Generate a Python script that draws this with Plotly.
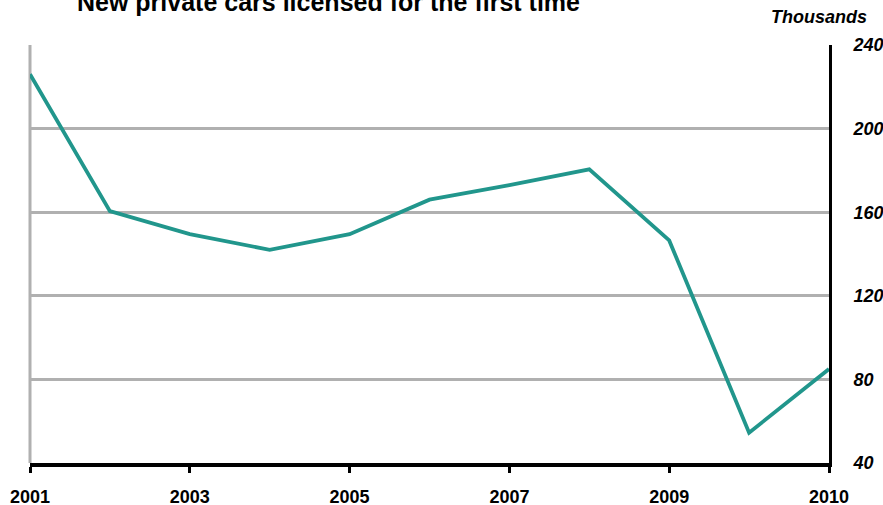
import plotly.graph_objects as go

years = ["2001", "2002", "2003", "2004", "2005", "2006", "2007", "2008", "2009", "2010", "2011"]
cars_thousands = [226, 160.5, 149.5, 142, 149.5, 166, 173, 180.5, 146.5, 54.5, 85]
tick_positions = [0, 2, 4, 6, 8, 10]
tick_labels = ["2001", "2003", "2005", "2007", "2009", "2010"]
y_ticks = [40, 80, 120, 160, 200, 240]

FONT = "Arial, Liberation Sans, Helvetica, sans-serif"

fig = go.Figure()
fig.add_trace(go.Scatter(
    x=list(range(len(years))), y=cars_thousands, mode="lines",
    line=dict(color="#21968c", width=3.8), hoverinfo="skip", showlegend=False,
))

fig.update_layout(
    width=883, height=505,
    margin=dict(l=30, r=54, t=45, b=42),
    paper_bgcolor="white", plot_bgcolor="white",
    font=dict(family=FONT, color="black"),
    xaxis=dict(
        range=[0, 10], tickmode="array", tickvals=tick_positions, ticktext=tick_labels,
        showgrid=False, zeroline=False, automargin=False,
        showline=True, linecolor="black", linewidth=4,
        ticks="outside", ticklen=6, tickwidth=3, tickcolor="black",
        tickfont=dict(size=18, family=FONT, weight="bold"),
        ticklabelstandoff=8,
    ),
    yaxis=dict(
        side="right", range=[40, 240], tickmode="array", tickvals=y_ticks,
        showgrid=True, gridcolor="#b0b0b0", gridwidth=3, zeroline=False, automargin=False,
        showline=True, linecolor="black", linewidth=3,
        ticks="", tickfont=dict(size=18, family=FONT, weight="bold", style="italic"),
        ticklabelstandoff=18,
    ),
    shapes=[
        dict(type="line", xref="x domain", yref="y domain", x0=0, x1=0, y0=0, y1=1,
             line=dict(color="#b0b0b0", width=3), layer="below"),
    ],
    annotations=[
        dict(text="New private cars licensed for the first time", xref="paper", yref="paper",
             x=0.056, y=1.104, xanchor="left", yanchor="middle", showarrow=False,
             font=dict(size=25, family=FONT, weight="bold")),
        dict(text="Thousands", xref="paper", yref="paper",
             x=1.05, y=1.067, xanchor="right", yanchor="middle", showarrow=False,
             font=dict(size=18, family=FONT, weight="bold", style="italic")),
    ],
)

fig.write_html(
    "out.html",
    config={"displayModeBar": False, "staticPlot": True},
    post_script="document.body.style.margin='0px';document.body.style.overflow='hidden';",
)
